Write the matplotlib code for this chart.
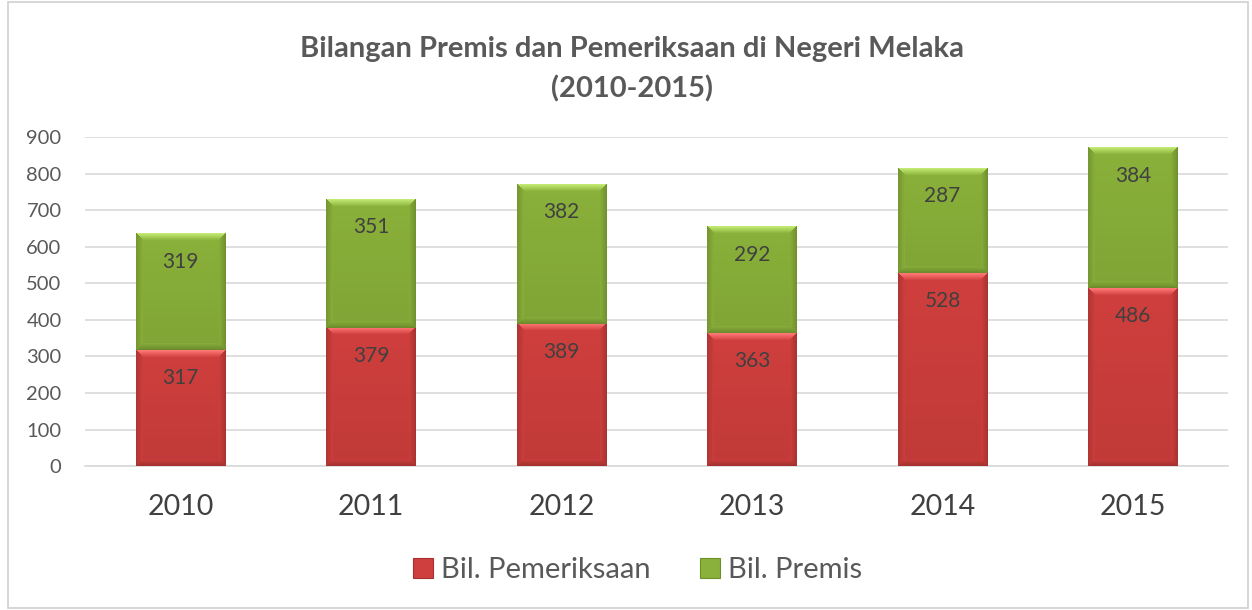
import numpy as np
import matplotlib
matplotlib.use("Agg")
import matplotlib.pyplot as plt
from matplotlib.patches import Patch, Rectangle
from matplotlib.colors import to_rgb

plt.rcParams['font.family'] = ['Lato', 'DejaVu Sans']

years = ["2010", "2011", "2012", "2013", "2014", "2015"]
pemeriksaan = [317, 379, 389, 363, 528, 486]
premis = [319, 351, 382, 292, 287, 384]

series_names = ["Bil. Pemeriksaan", "Bil. Premis"]
red = "#CF3F3D"
green = "#8AB13A"

fig = plt.figure(figsize=(12.52, 6.10), dpi=100)
ax = fig.add_axes([0.068, 0.236, 0.913, 0.539])

# light frame around the whole chart
fig.patches.append(Rectangle((0.0065, 0.003), 0.99, 0.994, transform=fig.transFigure,
                             fill=False, edgecolor="#D0D0D0", linewidth=1.2))

x = np.arange(len(years))
width = 0.47


def bevel_image(color, wpx, hpx, bev=7):
    base = np.array(to_rgb(color))
    light = np.clip(base + 0.22, 0, 1)
    dark = base * 0.70
    img = np.tile(base, (hpx, wpx, 1)).astype(float)
    # slight vertical shading of the body
    t = np.linspace(0, 1, hpx)[:, None, None]
    img = img * (1.0 - 0.07 * t)
    for i in range(bev):
        f = 1 - i / bev
        img[i, i:wpx - i] = base * (1 - f) + light * f
        img[hpx - 1 - i, i:wpx - i] = base * (1 - f * 0.7) + dark * f * 0.7
        img[i:hpx - i, i] = base * (1 - f * 0.5) + dark * f * 0.5
        img[i:hpx - i, wpx - 1 - i] = base * (1 - f * 0.6) + dark * f * 0.6
    return np.clip(img, 0, 1)


ax.set_xlim(-0.5, len(years) - 0.5)
ax.set_ylim(0, 900)

px_per_unit = 329 / 900.0
bottoms = np.zeros(len(years))
for vals, col in ((pemeriksaan, red), (premis, green)):
    ax.bar(x, vals, width, bottom=bottoms, color=col, zorder=2)
    for xi, b, v in zip(x, bottoms, vals):
        hpx = max(int(round(v * px_per_unit)), 14)
        img = bevel_image(col, 90, hpx)
        ax.imshow(img, extent=(xi - width / 2, xi + width / 2, b, b + v),
                  aspect='auto', interpolation='bilinear', zorder=3, origin='upper')
        ax.annotate(str(v), (xi, b + v), xytext=(0, -28), textcoords='offset pixels',
                    ha='center', va='center', fontsize=15, color="#404040", zorder=5)
    bottoms = bottoms + np.array(vals)

ax.set_xlim(-0.5, len(years) - 0.5)
ax.set_ylim(0, 900)
ax.set_yticks(np.arange(0, 901, 100))
ax.set_xticks(x)
ax.set_xticklabels(years)
ax.tick_params(axis='x', labelsize=20.5, colors="#404040", length=0, pad=20)
ax.tick_params(axis='y', labelsize=14.5, colors="#595959", length=0, pad=17)
ax.yaxis.grid(True, color="#D9D9D9", linewidth=1.2, zorder=0)
ax.set_axisbelow(True)
for s in ("top", "right", "left"):
    ax.spines[s].set_visible(False)
ax.spines["bottom"].set_color("#D9D9D9")
ax.spines["bottom"].set_linewidth(1.2)

fig.text(0.505, 0.919, "Bilangan Premis dan Pemeriksaan di Negeri Melaka", ha='center',
         va='center', fontsize=21, fontweight='bold', color="#595959")
fig.text(0.505, 0.855, "(2010-2015)", ha='center', va='center', fontsize=21,
         fontweight='bold', color="#595959")

handles = [Patch(facecolor=red, edgecolor="#A83030", linewidth=0.8),
           Patch(facecolor=green, edgecolor="#6E8F2A", linewidth=0.8)]
fig.legend(handles, series_names, loc='center', bbox_to_anchor=(0.509, 0.065), ncol=2,
           frameon=False, fontsize=21, labelcolor="#595959", handlelength=0.7,
           handleheight=0.7, handletextpad=0.25, columnspacing=1.7)

fig.savefig("out.png", dpi=100)
